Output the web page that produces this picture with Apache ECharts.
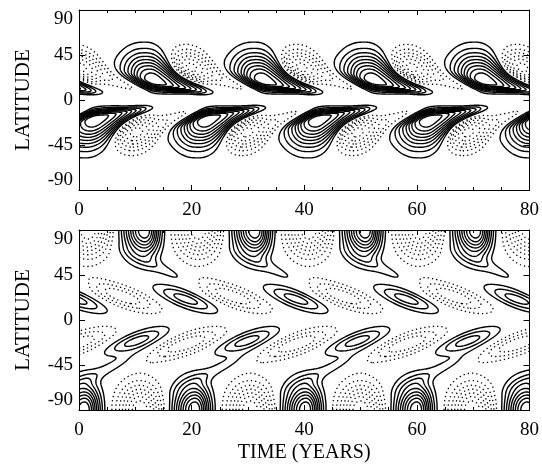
<!DOCTYPE html>
<html>
<head>
<meta charset="utf-8">
<script src="https://cdn.jsdelivr.net/npm/echarts/dist/echarts.min.js"></script>
<style>
html, body { margin: 0; padding: 0; background: #fff; }
#main { width: 542px; height: 468px; }
</style>
</head>
<body>
<div id="main"></div>
<script>
/* ---- values ---- */
// top panel (toroidal field): years where each lobe sits
var topNorthPos = [-6.6, 13.0, 32.5, 52.0, 71.6, 91.2];
var topNorthNeg = [-19.4, 0.2, 19.8, 39.4, 59.0, 78.6];
var topSouthPos = [-17.2, 2.4, 22.4, 42.1, 61.8, 81.4];
var topSouthNeg = [-9.4, 10.2, 29.8, 49.4, 69.0, 88.6];

// slices of a solid lobe: offset in years, peak, latitude of peak, width above / below
var posU    = [-10, -8, -6, -4, -2, 0, 2, 4, 6, 8, 10, 12, 14];
var posAmp  = [0, 0.04, 0.17, 0.45, 0.82, 1.0, 0.95, 0.85, 0.7, 0.45, 0.18, 0.04, 0];
var posLat  = [40, 36, 32, 28, 23, 19, 16.5, 14.5, 12.5, 10.5, 8.5, 7.5, 7];
var posUp   = [14, 16, 19, 22, 24, 25, 23, 18, 12, 7, 5, 4.5, 4];
var posDown = [9, 9, 9, 8.5, 8, 8, 7, 6, 5, 4.5, 4, 4, 4];

// slices of a dotted lobe
var negU    = [-8, -6, -4, -2, 0, 2, 4, 6, 8, 10, 12, 14];
var negAmp  = [0, 0.03, 0.2, 0.52, 0.65, 0.52, 0.3, 0.2, 0.16, 0.1, 0.04, 0];
var negLat  = [35, 35, 34, 33, 32, 30, 26, 20, 15, 11, 9, 8];
var negUp   = [15, 15, 16, 17, 17, 16, 13, 9, 6, 5, 4, 4];
var negDown = [13, 13, 14, 15, 15, 13, 10, 7, 5, 4, 4, 4];

// bottom panel (radial field): years of each lobe
var botNorthPolarPos = [-7.9, 11.7, 31.3, 50.9, 70.5, 90.1];
var botNorthPolarNeg = [1.6, 21.2, 40.8, 60.4, 80.0];
var botNorthRidgePos = [-3.7, 15.9, 35.5, 55.1, 74.7];
var botNorthMidPos   = [-0.6, 19.0, 38.6, 58.2, 77.8];
var botNorthMidNeg   = [-12.2, 7.4, 27.0, 46.6, 66.2, 85.8];
var botSouthPolarPos = [1.0, 20.6, 40.3, 60.0, 79.6];
var botSouthPolarNeg = [-8.8, 10.8, 30.4, 50.0, 69.8, 89.4];
var botSouthRidgePos = [-14.1, 5.5, 25.1, 44.8, 64.5, 84.1];
var botSouthMidPos   = [-9.4, 10.2, 29.8, 49.4, 69.0, 88.6];
var botSouthMidNeg   = [-0.6, 19.0, 38.6, 58.2, 77.8];

// lobe shapes: peak, latitude, width left / right (yr), width up / down (deg), tilt (yr per deg)
var polarPosShape = [1.0, 90, 3.6, 2.6, 25, 25, 0];
var polarNegShape = [-0.8, 90, 3.7, 3.7, 25, 25, 0];
var ridgePosShape = [0.15, 48, 2.5, 2.5, 20, 20, 0.33];
var midPosShape   = [0.36, 21, 3.6, 3.6, 13, 13, 0.3];
var midNegShape   = [-0.4, 24, 4.4, 4.4, 15, 15, 0.3];

// contour levels
var levels = [0.1, 0.2, 0.3, 0.4, 0.5, 0.6, 0.7, 0.8, 0.9];
var xTicks = [0, 20, 40, 60, 80];
var yTicks = [-90, -45, 0, 45, 90];

/* ---- field from the lobes ---- */
// Catmull-Rom through the slice values
function smooth(xs, ys, x) {
	var n = xs.length;
	if (x <= xs[0]) return ys[0];
	if (x >= xs[n - 1]) return ys[n - 1];
	var i = 0;
	while (x > xs[i + 1]) i++;
	var f = (x - xs[i]) / (xs[i + 1] - xs[i]);
	var p0 = ys[Math.max(i - 1, 0)], p1 = ys[i], p2 = ys[i + 1], p3 = ys[Math.min(i + 2, n - 1)];
	return 0.5 * (2 * p1 + (-p0 + p2) * f + (2 * p0 - 5 * p1 + 4 * p2 - p3) * f * f + (-p0 + 3 * p1 - 3 * p2 + p3) * f * f * f);
}
function sliceLobe(u, lat, us, amp, cen, up, down, sign) {
	if (u <= us[0] || u >= us[us.length - 1]) return 0;
	var a = Math.max(0, smooth(us, amp, u));
	var c = smooth(us, cen, u);
	var w = lat > c ? smooth(us, up, u) : smooth(us, down, u);
	var d = (lat - c) / w;
	return sign * a * Math.exp(-d * d);
}
function shapeLobe(t, lat, t0, s) {
	var du = t - t0 + s[6] * (lat - s[1]);
	var dv = lat - s[1];
	var wt = du < 0 ? s[2] : s[3];
	var wl = dv > 0 ? s[4] : s[5];
	return s[0] * Math.exp(-(du / wt) * (du / wt) - (dv / wl) * (dv / wl));
}
function topField(t, lat) {
	var v = 0, i, h = lat >= 0 ? lat : -lat;
	var north = lat >= 0;
	var pos = north ? topNorthPos : topSouthPos;
	var neg = north ? topNorthNeg : topSouthNeg;
	for (i = 0; i < pos.length; i++) v += sliceLobe(t - pos[i], h, posU, posAmp, posLat, posUp, posDown, 1);
	for (i = 0; i < neg.length; i++) v += sliceLobe(t - neg[i], h, negU, negAmp, negLat, negUp, negDown, -1);
	return v * Math.min(1, h / 3);
}
function botField(t, lat) {
	var v = 0, i, h = lat >= 0 ? lat : -lat;
	var north = lat >= 0;
	var lists = north ?
		[[botNorthPolarPos, polarPosShape], [botNorthPolarNeg, polarNegShape], [botNorthRidgePos, ridgePosShape],
			[botNorthMidPos, midPosShape], [botNorthMidNeg, midNegShape]] :
		[[botSouthPolarPos, polarPosShape], [botSouthPolarNeg, polarNegShape], [botSouthRidgePos, ridgePosShape],
			[botSouthMidPos, midPosShape], [botSouthMidNeg, midNegShape]];
	lists.forEach(function(l) {
		for (i = 0; i < l[0].length; i++) v += shapeLobe(t, h, l[0][i], l[1]);
	});
	return v * Math.min(1, h / 3);
}

/* ---- marching squares ---- */
var DT = 0.2, DL = 0.5;
var NX = Math.round(80 / DT) + 1, NY = Math.round(180 / DL) + 1;
function sample(fn) {
	var g = [];
	for (var j = 0; j < NY; j++) {
		var row = new Float64Array(NX);
		for (var i = 0; i < NX; i++) row[i] = fn(i * DT, -90 + j * DL);
		g.push(row);
	}
	return g;
}
function contour(g, L) {
	var pts = {}, segs = [], adj = {};
	function edgePt(key, x0, y0, v0, x1, y1, v1) {
		if (!pts[key]) {
			var f = (L - v0) / (v1 - v0);
			pts[key] = [(x0 + f * (x1 - x0)) * DT, -90 + (y0 + f * (y1 - y0)) * DL];
		}
		return key;
	}
	function addSeg(a, b) {
		var k = segs.length;
		segs.push([a, b]);
		(adj[a] = adj[a] || []).push(k);
		(adj[b] = adj[b] || []).push(k);
	}
	for (var j = 0; j < NY - 1; j++) {
		for (var i = 0; i < NX - 1; i++) {
			var v0 = g[j][i], v1 = g[j][i + 1], v2 = g[j + 1][i + 1], v3 = g[j + 1][i];
			var b0 = v0 > L, b1 = v1 > L, b2 = v2 > L, b3 = v3 > L;
			var e = [];
			if (b0 !== b1) e[0] = edgePt('h' + j + '_' + i, i, j, v0, i + 1, j, v1);
			if (b1 !== b2) e[1] = edgePt('v' + j + '_' + (i + 1), i + 1, j, v1, i + 1, j + 1, v2);
			if (b3 !== b2) e[2] = edgePt('h' + (j + 1) + '_' + i, i, j + 1, v3, i + 1, j + 1, v2);
			if (b0 !== b3) e[3] = edgePt('v' + j + '_' + i, i, j, v0, i, j + 1, v3);
			var ks = [];
			for (var q = 0; q < 4; q++) if (e[q]) ks.push(q);
			if (ks.length === 2) addSeg(e[ks[0]], e[ks[1]]);
			else if (ks.length === 4) {
				var mid = (v0 + v1 + v2 + v3) / 4 > L;
				if (mid === b0) { addSeg(e[0], e[1]); addSeg(e[2], e[3]); }
				else { addSeg(e[3], e[0]); addSeg(e[1], e[2]); }
			}
		}
	}
	// chain the segments into polylines
	var used = new Uint8Array(segs.length), lines = [];
	function walk(start, k) {
		var line = [pts[start]], cur = start;
		while (k !== undefined && !used[k]) {
			used[k] = 1;
			var nxt = segs[k][0] === cur ? segs[k][1] : segs[k][0];
			line.push(pts[nxt]);
			cur = nxt;
			var cand = adj[cur];
			k = undefined;
			for (var c = 0; c < cand.length; c++) if (!used[cand[c]]) { k = cand[c]; break; }
		}
		return line;
	}
	for (var a in adj) {
		if (adj[a].length === 1 && !used[adj[a][0]]) lines.push(walk(a, adj[a][0]));
	}
	for (var s = 0; s < segs.length; s++) {
		if (!used[s]) lines.push(walk(segs[s][0], s));
	}
	return lines;
}
function contourSet(g, sign) {
	var out = [];
	levels.forEach(function(L) {
		out = out.concat(contour(g, sign * L));
	});
	return out;
}

function contourSeries(lines, idx, dotted) {
	return {
		type: 'custom',
		xAxisIndex: idx,
		yAxisIndex: idx,
		silent: true,
		clip: true,
		animation: false,
		encode: { x: 0, y: 1 },
		data: lines.map(function(l, k) { return [l[0][0], l[0][1], k]; }),
		renderItem: function(params, api) {
			var l = lines[api.value(2)];
			return {
				type: 'polyline',
				shape: { points: l.map(function(p) { return api.coord(p); }) },
				style: dotted ?
					{ fill: 'none', stroke: '#000', lineWidth: 1.3, lineDash: [1.3, 3] } :
					{ fill: 'none', stroke: '#000', lineWidth: 1.4 }
			};
		}
	};
}

var topGrid = sample(topField);
var botGrid = sample(botField);

var font = 'Liberation Serif';
function xAxisOf(grid, pos, withLabel, name) {
	return {
		type: 'value', gridIndex: grid, position: pos, min: 0, max: 80, interval: 20,
		axisLine: { show: true, onZero: false, lineStyle: { color: '#000', width: 1 } },
		axisTick: { show: true, inside: true, length: 5, lineStyle: { color: '#000' } },
		minorTick: { show: true, splitNumber: 4, length: 3, lineStyle: { color: '#000' } },
		axisLabel: {
			show: withLabel, margin: 11, color: '#000', fontFamily: font, fontSize: 19,
			formatter: function(v) { return xTicks.indexOf(v) >= 0 ? String(v) : ''; }
		},
		splitLine: { show: false },
		name: name || '', nameLocation: 'middle', nameGap: 33,
		nameTextStyle: { color: '#000', fontFamily: font, fontSize: 20 }
	};
}
function yAxisOf(grid, pos, withLabel) {
	return {
		type: 'value', gridIndex: grid, position: pos, min: -90, max: 90, interval: 45,
		axisLine: { show: true, onZero: false, lineStyle: { color: '#000', width: 1 } },
		axisTick: { show: true, inside: true, length: 6, lineStyle: { color: '#000' } },
		axisLabel: {
			show: withLabel, margin: 6, color: '#000', fontFamily: font, fontSize: 19,
			verticalAlignMaxLabel: 'top', verticalAlignMinLabel: 'bottom',
			formatter: function(v) { return yTicks.indexOf(v) >= 0 ? String(v) : ''; }
		},
		splitLine: { show: false },
		name: withLabel ? 'LATITUDE' : '', nameLocation: 'middle', nameGap: 45, nameRotate: 90,
		nameTextStyle: { color: '#000', fontFamily: font, fontSize: 21 }
	};
}

var chart = echarts.init(document.getElementById('main'));
chart.setOption({
	animation: false,
	backgroundColor: '#fff',
	grid: [
		{ left: 79, top: 10, width: 451, height: 180 },
		{ left: 79, top: 230, width: 451, height: 180 }
	],
	xAxis: [
		xAxisOf(0, 'bottom', true), xAxisOf(1, 'bottom', true, 'TIME (YEARS)'),
		xAxisOf(0, 'top', false), xAxisOf(1, 'top', false)
	],
	yAxis: [
		yAxisOf(0, 'left', true), yAxisOf(1, 'left', true),
		yAxisOf(0, 'right', false), yAxisOf(1, 'right', false)
	],
	series: [
		contourSeries(contourSet(topGrid, 1), 0, false),
		contourSeries(contourSet(topGrid, -1), 0, true),
		contourSeries(contourSet(botGrid, 1), 1, false),
		contourSeries(contourSet(botGrid, -1), 1, true)
	]
});
</script>
</body>
</html>
